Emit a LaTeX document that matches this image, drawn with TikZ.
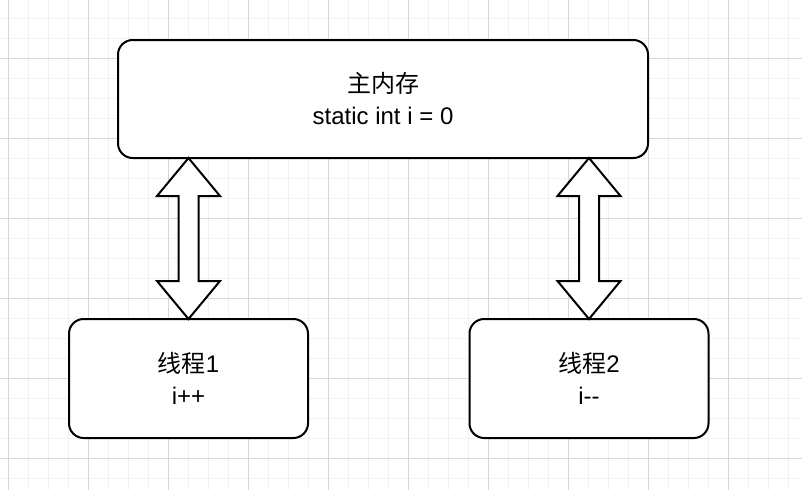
\documentclass[tikz,border=0pt]{standalone}
\usepackage{fontspec}
\setmainfont{Liberation Sans}
\newfontfamily\cjk{Noto Sans CJK SC}
\usetikzlibrary{calc}
\begin{document}
\begin{tikzpicture}[x=0.75pt, y=-0.75pt,
				    box/.style={draw, line width=1.5pt, rounded corners=11pt, fill=white,
				    			align=center, inner sep=0pt, outer sep=0pt, text=black,
				    			font=\fontsize{18}{24}\selectfont},
				    blockarrow/.style={draw, line width=1.5pt, fill=white, line join=miter}]
	\useasboundingbox (0,0) rectangle (802,490);
	\fill[white] (0,0) rectangle (802,490);
	% grid
	\foreach \x in {8,28,...,788} \draw[gray!10, line width=0.75pt] (\x,0) -- (\x,490);
	\foreach \y in {18,38,...,478} \draw[gray!10, line width=0.75pt] (0,\y) -- (802,\y);
	\foreach \x in {8,88,...,788} \draw[gray!32, line width=0.75pt] (\x,0) -- (\x,490);
	\foreach \y in {58,138,...,458} \draw[gray!32, line width=0.75pt] (0,\y) -- (802,\y);

	\node[box, minimum width=397.5pt, minimum height=88.5pt] (mem) at (383, 99) {{\cjk 主内存}\\static int i = 0};
	\node[box, minimum width=179.25pt, minimum height=89.25pt] (t1) at (188.5, 378.5) {{\cjk 线程}1\\i++};
	\node[box, minimum width=179.25pt, minimum height=89.25pt] (t2) at (589, 378.5) {{\cjk 线程}2\\i-{}-};

	\draw[blockarrow] (t1.north |- mem.south) -- ++(31.5,38) -- ++(-21.5,0) -- ($(t1.north)+(10,-38)$)
		-- ++(21.5,0) -- (t1.north) -- ++(-31.5,-38) -- ++(21.5,0) -- ($(t1.north |- mem.south)+(-10,38)$)
		-- ++(-21.5,0) -- cycle;
	\draw[blockarrow] (t2.north |- mem.south) -- ++(31.5,38) -- ++(-21.5,0) -- ($(t2.north)+(10,-38)$)
		-- ++(21.5,0) -- (t2.north) -- ++(-31.5,-38) -- ++(21.5,0) -- ($(t2.north |- mem.south)+(-10,38)$)
		-- ++(-21.5,0) -- cycle;

\end{tikzpicture}
\end{document}
